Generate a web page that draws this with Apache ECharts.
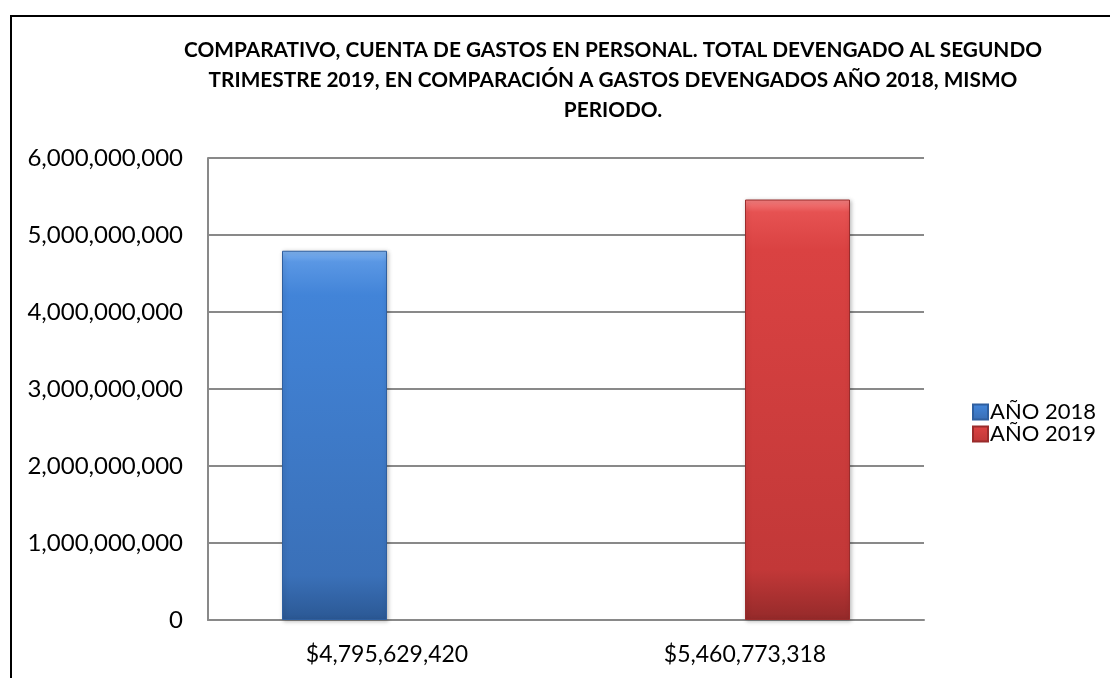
<!DOCTYPE html>
<html>
<head>
<meta charset="utf-8">
<script src="https://cdn.jsdelivr.net/npm/echarts@6/dist/echarts.min.js"></script>
<style>
html,body{margin:0;padding:0;background:#fff;}
#c{width:1110px;height:678px;}
</style>
</head>
<body>
<div id="c"></div>
<script>
const titleText = 'COMPARATIVO, CUENTA DE GASTOS EN PERSONAL. TOTAL DEVENGADO AL SEGUNDO\nTRIMESTRE 2019, EN COMPARACIÓN A GASTOS DEVENGADOS AÑO 2018, MISMO\nPERIODO.';
const categories = ['$4,795,629,420', '$5,460,773,318'];
const seriesNames = ['AÑO 2018', 'AÑO 2019'];
const values2018 = [4795629420, null];
const values2019 = [null, 5460773318];
const yMin = 0, yMax = 6000000000, yInterval = 1000000000;

const FONT = 'Lato';
function grad(c0, c1, c2, c3, c4) {
  return new echarts.graphic.LinearGradient(0, 0, 0, 1, [
    {offset: 0, color: c0},
    {offset: 0.03, color: c1},
    {offset: 0.12, color: c2},
    {offset: 0.88, color: c3},
    {offset: 1, color: c4}
  ]);
}
const blueFill = grad('#7fb3f0', '#5a97e4', '#4284d8', '#3a70b8', '#2b5894');
const redFill = grad('#f58080', '#e65252', '#da4242', '#c23838', '#952a2a');

const chart = echarts.init(document.getElementById('c'), null, {renderer: 'canvas'});
chart.setOption({
  animation: false,
  backgroundColor: '#fff',
  title: {
    text: titleText,
    left: 608,
    textAlign: 'center',
    top: 30,
    textStyle: {fontFamily: FONT, fontWeight: 'bold', fontSize: 20.8, lineHeight: 30, color: '#000'}
  },
  legend: {
    orient: 'vertical',
    left: 967,
    top: 396,
    itemGap: 0,
    itemWidth: 15,
    itemHeight: 15,
    icon: 'rect',
    textStyle: {fontFamily: FONT, fontSize: 22, lineHeight: 22, color: '#000', padding: [0, 0, 0, -3]},
    data: seriesNames
  },
  grid: {left: 208, right: 186, top: 158, bottom: 58, containLabel: false},
  xAxis: {
    type: 'category',
    data: categories,
    axisLine: {lineStyle: {color: '#898989', width: 2}},
    axisTick: {show: false},
    axisLabel: {fontFamily: FONT, fontSize: 23, color: '#000', margin: 23}
  },
  yAxis: {
    type: 'value',
    min: yMin, max: yMax, interval: yInterval,
    axisLine: {show: true, lineStyle: {color: '#898989', width: 2}},
    axisTick: {show: false},
    splitLine: {lineStyle: {color: '#898989', width: 2}},
    axisLabel: {
      fontFamily: FONT, fontSize: 24, color: '#000', margin: 25,
      formatter: v => v.toLocaleString('en-US')
    }
  },
  series: [
    {
      name: seriesNames[0], type: 'bar', data: values2018,
      barWidth: 105, barGap: '0%',
      itemStyle: {color: blueFill, borderColor: '#2f5f9f', borderWidth: 1,
        shadowColor: 'rgba(0,0,0,0.25)', shadowBlur: 4, shadowOffsetX: 1, shadowOffsetY: 1}
    },
    {
      name: seriesNames[1], type: 'bar', data: values2019,
      barWidth: 105, barGap: '0%',
      itemStyle: {color: redFill, borderColor: '#9a2c2c', borderWidth: 1,
        shadowColor: 'rgba(0,0,0,0.25)', shadowBlur: 4, shadowOffsetX: 1, shadowOffsetY: 1}
    }
  ],
  graphic: [{
    type: 'rect',
    shape: {x: 11, y: 16, width: 1200, height: 1000},
    style: {fill: 'none', stroke: '#000', lineWidth: 2},
    silent: true
  }]
});
</script>
</body>
</html>
